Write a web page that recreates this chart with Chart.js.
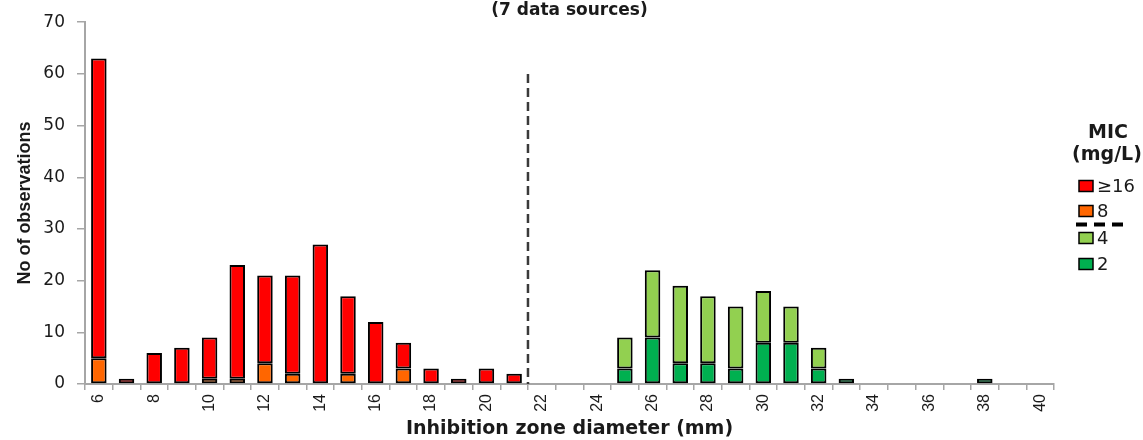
<!DOCTYPE html>
<html>
<head>
<meta charset="utf-8">
<script src="https://cdn.jsdelivr.net/npm/chart.js@4.4.1/dist/chart.umd.min.js"></script>
<style>
  html, body { margin: 0; padding: 0; background: #ffffff; }
  #wrap { width: 1143px; height: 440px; }
</style>
</head>
<body>
<div id="wrap"><canvas id="c" width="1143" height="440"></canvas></div>
<script>
// ---- data ----
const diameters = ['6','7','8','9','10','11','12','13','14','15','16','17','18','19','20','21','22','23','24','25','26','27','28','29','30','31','32','33','34','35','36','37','38','39','40'];
const micGe16 = [58,1,6,7,8,22,17,19,27,15,12,5,3,1,3,2,0,0,0,0,0,0,0,0,0,0,0,0,0,0,0,0,0,0,0];
const mic8    = [5,0,0,0,1,1,4,2,0,2,0,3,0,0,0,0,0,0,0,0,0,0,0,0,0,0,0,0,0,0,0,0,0,0,0];
const mic4    = [0,0,0,0,0,0,0,0,0,0,0,0,0,0,0,0,0,0,0,6,13,15,13,12,10,7,4,0,0,0,0,0,0,0,0];
const mic2    = [0,0,0,0,0,0,0,0,0,0,0,0,0,0,0,0,0,0,0,3,9,4,4,3,8,8,3,1,0,0,0,0,1,0,0];
const yTicks = [0,10,20,30,40,50,60,70];
const breakpointBetween = ['21','22'];
const breakpointTop = 60;
const chartTitle = '(7 data sources)';
const legendTitle = ['MIC', '(mg/L)'];
const xTitle = 'Inhibition zone diameter (mm)';
const yTitle = 'No of observations';

const colors = { '≥16': '#ff0000', '8': '#ff6600', '4': '#92d050', '2': '#00b050' };
const toBars = arr => arr.map(v => (v ? v : null));

function ds(label, values) {
  return {
    label: label,
    data: toBars(values),
    backgroundColor: colors[label],
    borderColor: '#000000',
    borderWidth: 2,
    borderSkipped: false,
    stack: 'mic',
    barPercentage: 0.56,
    categoryPercentage: 1.0
  };
}

const breakpointPlugin = {
  id: 'breakpoint',
  afterDatasetsDraw(chart) {
    const { ctx, scales: { x, y } } = chart;
    const i1 = diameters.indexOf(breakpointBetween[0]);
    const i2 = diameters.indexOf(breakpointBetween[1]);
    const px = (x.getPixelForValue(i1) + x.getPixelForValue(i2)) / 2;
    ctx.save();
    ctx.strokeStyle = '#3a3a3a';
    ctx.lineWidth = 2.5;
    ctx.setLineDash([9, 5]);
    ctx.beginPath();
    ctx.moveTo(px, y.getPixelForValue(breakpointTop));
    ctx.lineTo(px, y.getPixelForValue(0));
    ctx.stroke();
    ctx.restore();
  }
};

const decorPlugin = {
  id: 'decor',
  afterDraw(chart) {
    const { ctx, chartArea } = chart;
    ctx.save();
    // title
    ctx.fillStyle = '#1a1a1a';
    ctx.textAlign = 'center';
    ctx.textBaseline = 'middle';
    ctx.font = 'bold 17px "DejaVu Sans"';
    ctx.fillText(chartTitle, (chartArea.left + chartArea.right) / 2, 11);

    // legend
    const lx = 1108;
    ctx.font = 'bold 19px "DejaVu Sans"';
    ctx.fillText(legendTitle[0], lx, 133);
    ctx.fillText(legendTitle[1], lx - 1, 155);

    const items = [
      { label: '≥16', y: 186 },
      { label: '8', y: 211 },
      { label: '4', y: 238 },
      { label: '2', y: 264 }
    ];
    ctx.font = '18px "DejaVu Sans"';
    ctx.textAlign = 'left';
    items.forEach(it => {
      ctx.fillStyle = colors[it.label];
      ctx.fillRect(1079, it.y - 5.5, 14, 11);
      ctx.strokeStyle = '#000';
      ctx.lineWidth = 1.5;
      ctx.strokeRect(1079, it.y - 5.5, 14, 11);
      ctx.fillStyle = '#1a1a1a';
      ctx.fillText(it.label, 1097, it.y + 1);
    });
    // breakpoint separator in legend
    ctx.strokeStyle = '#000';
    ctx.lineWidth = 4;
    ctx.setLineDash([11, 7]);
    ctx.beginPath();
    ctx.moveTo(1076, 224.5);
    ctx.lineTo(1124, 224.5);
    ctx.stroke();
    ctx.restore();
  }
};

new Chart(document.getElementById('c'), {
  type: 'bar',
  data: {
    labels: diameters,
    datasets: [ ds('8', mic8), ds('≥16', micGe16), ds('2', mic2), ds('4', mic4) ]
  },
  options: {
    responsive: false,
    devicePixelRatio: 1,
    animation: false,
    layout: { padding: { top: 13, right: 89, bottom: 0, left: 0 } },
    plugins: { legend: { display: false }, tooltip: { enabled: false }, title: { display: false } },
    scales: {
      x: {
        stacked: true,
        offset: true,
        grid: { display: true, drawOnChartArea: false, drawTicks: true, tickLength: 6, color: '#a6a6a6', lineWidth: 1.5, offset: true },
        border: { display: true, color: '#a6a6a6', width: 2 },
        ticks: {
          autoSkip: false,
          maxRotation: 90,
          minRotation: 90,
          padding: 4,
          color: '#1a1a1a',
          font: { family: '"Liberation Sans", Arial, sans-serif', size: 16 },
          callback: function (value, index) {
            const lab = diameters[index];
            return (Number(lab) % 2 === 0) ? lab : '';
          }
        },
        title: {
          display: true,
          text: xTitle,
          color: '#1a1a1a',
          font: { family: '"DejaVu Sans"', size: 19, weight: 'bold' },
          padding: { top: 0, bottom: 0 }
        },
        afterFit: function (scale) { scale.height = 56; }
      },
      y: {
        stacked: true,
        min: 0,
        max: 70,
        afterBuildTicks: function (scale) { scale.ticks = yTicks.map(v => ({ value: v })); },
        grid: { display: true, drawOnChartArea: false, drawTicks: true, tickLength: 8, color: '#a6a6a6', lineWidth: 1.5 },
        border: { display: true, color: '#a6a6a6', width: 2 },
        ticks: {
          padding: 12,
          color: '#1a1a1a',
          font: { family: '"DejaVu Sans"', size: 17 }
        },
        title: {
          display: true,
          text: yTitle,
          color: '#1a1a1a',
          font: { family: '"Liberation Sans", Arial, sans-serif', size: 18, weight: 'bold' },
          padding: { top: 14, bottom: 0 }
        },
        afterFit: function (scale) { scale.width = 85; }
      }
    }
  },
  plugins: [breakpointPlugin, decorPlugin]
});
</script>
</body>
</html>
